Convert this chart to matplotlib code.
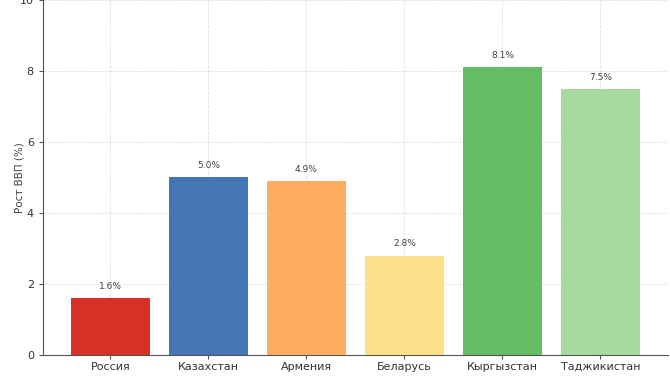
import matplotlib
matplotlib.use("Agg")
import matplotlib.pyplot as plt
import numpy as np

countries = ['Россия', 'Казахстан', 'Армения', 'Беларусь', 'Кыргызстан', 'Таджикистан']
growth = [1.6, 5.0, 4.9, 2.8, 8.1, 7.5]
colors = ['#d73027', '#4575b4', '#fdae61', '#fee08b', '#66bd63', '#a6dba0']

plt.rcParams['font.family'] = ['DejaVu Sans']

fig = plt.figure(figsize=(6.7, 3.76), dpi=100)
ax = fig.add_axes([0.064, 0.056, 0.933, 0.944])

x = np.arange(len(countries))
bars = ax.bar(x, growth, width=0.8, color=colors, zorder=2)

for xi, v in zip(x, growth):
    ax.text(xi, v + 0.2, f'{v:.1f}%', ha='center', va='bottom', fontsize=6.5, color='#444444')

ax.set_xticks(x)
ax.set_xticklabels(countries, fontsize=8, color='#333333')
ax.set_ylim(0, 10)
ax.set_yticks([0, 2, 4, 6, 8, 10])
ax.tick_params(axis='y', labelsize=8, labelcolor='#333333', length=3, color='#555555')
ax.tick_params(axis='x', length=3, color='#555555', pad=2)
ax.set_ylabel('Рост ВВП (%)', fontsize=7.5, color='#444444', labelpad=-3)

ax.grid(True, color='#cccccc', linewidth=0.6, linestyle='--', alpha=0.6, zorder=3)
for s in ['top', 'right']:
    ax.spines[s].set_visible(False)
ax.spines['left'].set_color('#555555')
ax.spines['bottom'].set_color('#555555')

fig.savefig('out.png', dpi=100)
